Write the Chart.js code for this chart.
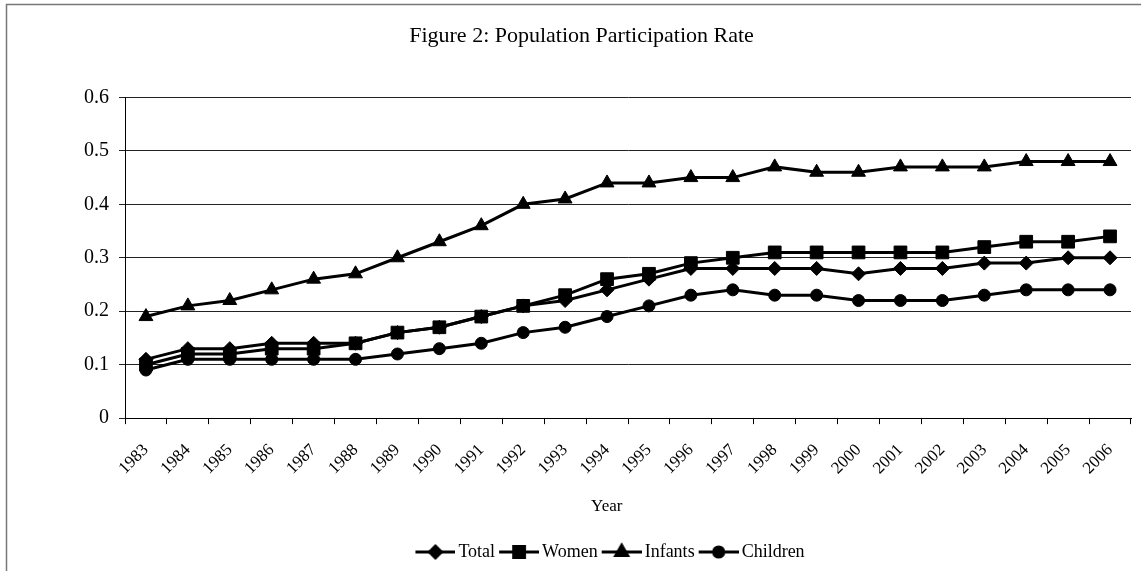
<!DOCTYPE html>
<html>
<head>
<meta charset="utf-8">
<title>Figure 2: Population Participation Rate</title>
<script src="https://cdn.jsdelivr.net/npm/chart.js@4.4.1/dist/chart.umd.min.js"></script>
<style>
    html, body { margin: 0; padding: 0; background: #fff; }
    #wrap { width: 1141px; height: 571px; }
</style>
</head>
<body>
<div id="wrap"><canvas id="chart"></canvas></div>
<script>
// values
const years = ['1983', '1984', '1985', '1986', '1987', '1988', '1989', '1990', '1991', '1992', '1993', '1994',
    '1995', '1996', '1997', '1998', '1999', '2000', '2001', '2002', '2003', '2004', '2005', '2006'];
const total = [0.11, 0.13, 0.13, 0.14, 0.14, 0.14, 0.16, 0.17, 0.19, 0.21, 0.22, 0.24,
    0.26, 0.28, 0.28, 0.28, 0.28, 0.27, 0.28, 0.28, 0.29, 0.29, 0.30, 0.30];
const women = [0.10, 0.12, 0.12, 0.13, 0.13, 0.14, 0.16, 0.17, 0.19, 0.21, 0.23, 0.26,
    0.27, 0.29, 0.30, 0.31, 0.31, 0.31, 0.31, 0.31, 0.32, 0.33, 0.33, 0.34];
const infants = [0.19, 0.21, 0.22, 0.24, 0.26, 0.27, 0.30, 0.33, 0.36, 0.40, 0.41, 0.44,
    0.44, 0.45, 0.45, 0.47, 0.46, 0.46, 0.47, 0.47, 0.47, 0.48, 0.48, 0.48];
const children = [0.09, 0.11, 0.11, 0.11, 0.11, 0.11, 0.12, 0.13, 0.14, 0.16, 0.17, 0.19,
    0.21, 0.23, 0.24, 0.23, 0.23, 0.22, 0.22, 0.22, 0.23, 0.24, 0.24, 0.24];
const yTicks = [0, 0.1, 0.2, 0.3, 0.4, 0.5, 0.6];

const serif = '"Liberation Serif", "DejaVu Serif", serif';
const nbsp = '\u00A0'.repeat(10); // nudges centred titles left, like the original

const markers = [
    { style: 'rectRot', radius: 7 },
    { style: 'rect', radius: 9 },
    { style: 'triangle', radius: 8 },
    { style: 'circle', radius: 6 }
];

// line-with-marker icons for the legend (visible part sits on the right of the canvas)
function legendIcon(m) {
    const c = document.createElement('canvas');
    c.width = 48;
    c.height = 20;
    const g = c.getContext('2d');
    g.strokeStyle = '#000';
    g.fillStyle = '#000';
    g.lineWidth = 3;
    g.beginPath();
    g.moveTo(8, 10);
    g.lineTo(48, 10);
    g.stroke();
    Chart.helpers.drawPoint(g, { pointStyle: m.style, radius: m.radius * 0.85, rotation: 0, borderWidth: 1 }, 28, 10);
    g.fill();
    return c;
}

function series(label, data, m) {
    return {
        label: label,
        data: data,
        borderColor: '#000',
        backgroundColor: '#000',
        borderWidth: 3,
        pointStyle: m.style,
        pointRadius: m.radius,
        pointBorderWidth: 1,
        pointBackgroundColor: '#000',
        tension: 0
    };
}

// white background plus the figure frame (top and left edges)
const frame = {
    id: 'frame',
    beforeDraw(chart) {
        const ctx = chart.ctx;
        ctx.save();
        ctx.fillStyle = '#fff';
        ctx.fillRect(0, 0, chart.width, chart.height);
        ctx.strokeStyle = '#777';
        ctx.lineWidth = 1.5;
        ctx.beginPath();
        ctx.moveTo(6.5, chart.height);
        ctx.lineTo(6.5, 4.5);
        ctx.lineTo(chart.width, 4.5);
        ctx.stroke();
        ctx.restore();
    }
};

document.addEventListener('DOMContentLoaded', () => {
    const icons = markers.map(legendIcon);
    const ctx = document.getElementById('chart').getContext('2d');
    new Chart(ctx, {
        type: 'line',
        data: {
            labels: years,
            datasets: [
                series('Total', total, markers[0]),
                series('Women', women, markers[1]),
                series('Infants', infants, markers[2]),
                series('Children', children, markers[3])
            ]
        },
        options: {
            responsive: true,
            maintainAspectRatio: false,
            animation: false,
            layout: { padding: { left: 74, right: -3, top: 8, bottom: 0 } },
            scales: {
                x: {
                    offset: true,
                    grid: { offset: true, drawOnChartArea: false, drawTicks: true, tickLength: 6, color: '#000', lineWidth: 1 },
                    border: { display: true, color: '#000', width: 1 },
                    ticks: {
                        color: '#000',
                        font: { family: serif, size: 17 },
                        minRotation: 45,
                        maxRotation: 45,
                        autoSkip: false,
                        padding: 16
                    },
                    title: {
                        display: true,
                        text: 'Year' + nbsp,
                        color: '#000',
                        font: { family: serif, size: 17 },
                        padding: { top: 2, bottom: 24 }
                    }
                },
                y: {
                    min: 0,
                    max: 0.6,
                    afterBuildTicks(axis) { axis.ticks = yTicks.map(v => ({ value: v })); },
                    grid: { color: '#222', lineWidth: 1, drawTicks: true, tickLength: 6 },
                    border: { display: true, color: '#000', width: 1 },
                    ticks: {
                        color: '#000',
                        font: { family: serif, size: 20 },
                        padding: 10,
                        callback: v => String(Math.round(v * 10) / 10)
                    }
                }
            },
            plugins: {
                title: {
                    display: true,
                    text: 'Figure 2: Population Participation Rate' + nbsp,
                    color: '#000',
                    font: { family: serif, size: 22, weight: 'normal' },
                    padding: { top: 15, bottom: 48 }
                },
                legend: {
                    position: 'bottom',
                    labels: {
                        color: '#000',
                        font: { family: serif, size: 18 },
                        usePointStyle: true,
                        pointStyleWidth: 36,
                        padding: 2,
                        generateLabels(chart) {
                            const items = Chart.defaults.plugins.legend.labels.generateLabels(chart);
                            items.forEach((it, i) => { it.pointStyle = icons[i]; });
                            return items;
                        }
                    }
                },
                tooltip: { enabled: false }
            }
        },
        plugins: [frame]
    });
});
</script>
</body>
</html>
